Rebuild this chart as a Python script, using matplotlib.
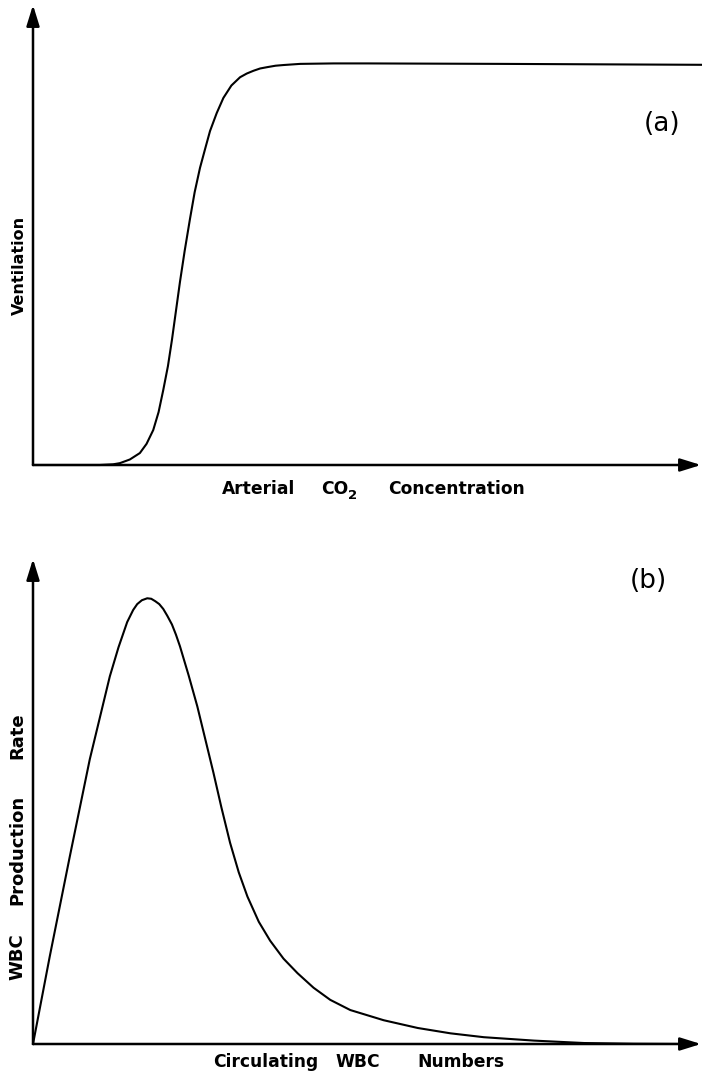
import numpy as np
import matplotlib
matplotlib.use("Agg")
import matplotlib.pyplot as plt

plt.rcParams["font.family"] = ["DejaVu Sans"]

# (a) ventilation vs arterial CO2 -- arbitrary units
co2 = [0, 10.0, 12.0, 13.0, 14.5, 16.0, 17.0, 18.0, 18.8, 19.5, 20.2, 20.8, 21.4,
       22.0, 22.7, 23.5, 24.2, 25.0, 25.8, 26.5, 27.5, 28.5, 29.7, 31.0, 32.0,
       33.0, 34.0, 35.1, 36.3, 37.5, 40.0, 45.0, 50.0, 70.0, 100.0]
vent = [0, 0, 0.15, 0.4, 1.2, 2.6, 4.6, 7.6, 11.5, 16.3, 21.5, 27.2, 33.5,
        39.8, 46.5, 53.5, 59.3, 64.6, 68.9, 72.6, 76.5, 79.8, 82.5, 84.3, 85.1,
        85.7, 86.2, 86.5, 86.8, 86.95, 87.2, 87.3, 87.3, 87.2, 87.0]

# (b) WBC production rate vs circulating WBC numbers
wbc = [0, 2.5, 5.5, 8.5, 11.5, 12.8, 14.1, 15.0, 15.6, 16.3, 17.1, 17.7, 18.3,
       18.9, 19.5, 20.1, 20.8, 21.4, 22.0, 23.3, 24.6, 25.8, 27.0, 28.2, 29.5,
       30.8, 32.1, 33.8, 35.5, 37.5, 39.6, 42.0, 44.5, 47.5, 52.5, 57.6, 62.5,
       67.5, 75.0, 82.5, 90.0, 98.5]
prod = [0, 18.0, 38.6, 58.7, 75.8, 81.8, 87.0, 89.5, 90.7, 91.5, 91.9, 91.8, 91.3,
        90.7, 89.7, 88.3, 86.5, 84.4, 82.0, 76.0, 69.6, 62.8, 56.0, 48.8, 41.5,
        35.4, 30.4, 25.2, 21.3, 17.6, 14.6, 11.6, 9.1, 7.0, 4.9, 3.3, 2.2,
        1.4, 0.7, 0.2, 0.05, 0]

W, H = 702, 1075
fig = plt.figure(figsize=(W / 100, H / 100), dpi=100)

def px_axes(x0, x1, ybase, ytop):
    ax = fig.add_axes([x0 / W, 1 - ybase / H, (x1 - x0) / W, (ybase - ytop) / H])
    ax.set_xlim(0, 100)
    ax.set_ylim(0, 100)
    ax.axis("off")
    arrow = dict(arrowstyle="-|>,head_length=0.9,head_width=0.28", color="k",
                 lw=1.8, shrinkA=0, shrinkB=0, mutation_scale=14)
    ax.annotate("", xy=(1, 0), xytext=(0, 0), xycoords="axes fraction",
                arrowprops=arrow, annotation_clip=False)
    ax.annotate("", xy=(0, 1), xytext=(0, 0), xycoords="axes fraction",
                arrowprops=arrow, annotation_clip=False)
    return ax

line = dict(color="k", lw=1.5, clip_on=False, solid_joinstyle="round")

ax1 = px_axes(33, 701, 465, 5)
ax1.plot(co2, vent, **line)

ax2 = px_axes(33, 701, 1044, 559)
ax2.plot(wbc, prod, **line)

def ftext(x, y, s, **kw):
    kw.setdefault("fontweight", "bold")
    kw.setdefault("fontsize", 12.3)
    fig.text(x / W, 1 - y / H, s, **kw)

# panel (a) labels
ftext(222, 489, "Arterial", ha="left", va="center")
ftext(321, 489, "CO", ha="left", va="center")
ftext(348, 495, "2", ha="left", va="center", fontsize=9.5)
ftext(388, 489, "Concentration", ha="left", va="center")
ftext(19, 265, "Ventilation", ha="center", va="center", rotation=90, fontsize=11.5)
ftext(662, 124, "(a)", ha="center", va="center", fontweight="normal", fontsize=19)

# panel (b) labels
ftext(213, 1062, "Circulating", ha="left", va="center")
ftext(335, 1062, "WBC", ha="left", va="center")
ftext(417, 1062, "Numbers", ha="left", va="center")
ftext(17, 736, "Rate", ha="center", va="center", rotation=90, fontsize=13)
ftext(17, 850, "Production", ha="center", va="center", rotation=90, fontsize=13)
ftext(17, 957, "WBC", ha="center", va="center", rotation=90, fontsize=13)
ftext(648, 581, "(b)", ha="center", va="center", fontweight="normal", fontsize=19)

fig.savefig("out.png", dpi=100)
